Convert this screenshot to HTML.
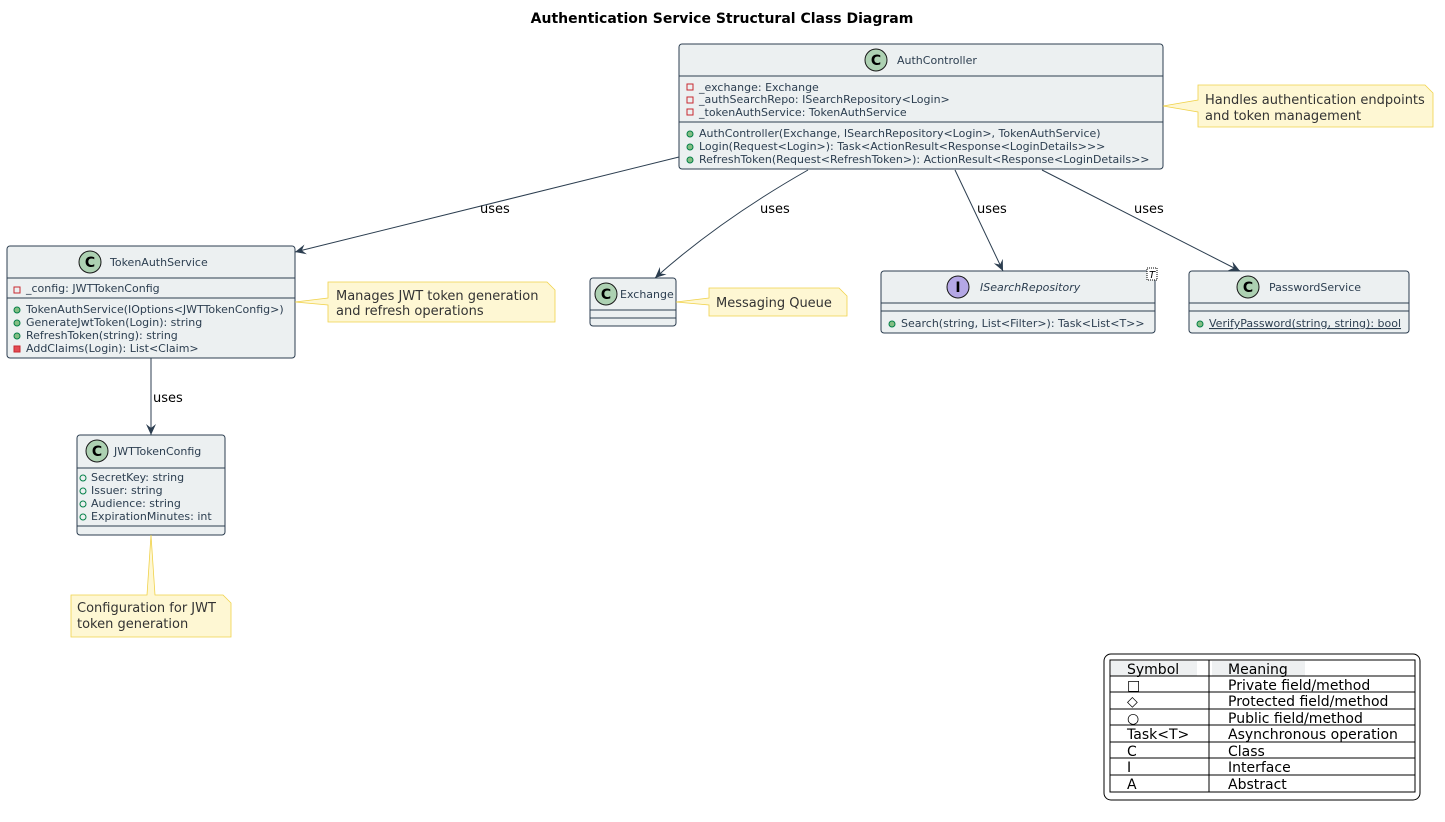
<!DOCTYPE html>
<html><head><meta charset="utf-8"><style>
body{margin:0;background:#fff}
svg text{font-family:"DejaVu Sans","Liberation Sans",sans-serif}
.cls{fill:#ECF0F1;stroke:#2C3E50;stroke-width:1}
.t{font-size:11px;fill:#2C3E50}
.note{fill:#FEF7D3;stroke:#F0D24B;stroke-width:0.8}
.nt{font-size:13px;fill:#333}
.e{stroke:#2C3E50;stroke-width:1;fill:none}
.lb{font-size:13px;fill:#000}
.pv{fill:none;stroke:#C82930}
.pub{fill:#84BE84;stroke:#038048}
</style></head><body>
<svg width="1445" height="817" xmlns="http://www.w3.org/2000/svg">
<defs>
<marker id="a" viewBox="0 0 12 12" refX="11" refY="6" markerWidth="12" markerHeight="12" orient="auto" markerUnits="userSpaceOnUse"><path d="M0,1 L11,6 L0,11 L4,6 Z" fill="#2C3E50"/></marker>
</defs>
<text x="722" y="23" text-anchor="middle" font-size="14" font-weight="bold">Authentication Service Structural Class Diagram</text>

<!-- AuthController -->
<rect class="cls" x="679" y="44" width="484" height="125" rx="3"/>
<line class="e" x1="679" y1="76" x2="1163" y2="76"/><line class="e" x1="679" y1="122" x2="1163" y2="122"/>
<circle cx="876" cy="60" r="11" fill="#ADD1B2" stroke="#181818"/><text x="876" y="65" text-anchor="middle" font-size="14" font-weight="bold">C</text>
<text class="t" x="897" y="64">AuthController</text>
<rect class="pv" x="687" y="84" width="6" height="6"/><text class="t" x="699" y="91">_exchange: Exchange</text>
<rect class="pv" x="687" y="97" width="6" height="6"/><text class="t" x="699" y="103">_authSearchRepo: ISearchRepository&lt;Login&gt;</text>
<rect class="pv" x="687" y="109" width="6" height="6"/><text class="t" x="699" y="116">_tokenAuthService: TokenAuthService</text>
<circle class="pub" cx="690" cy="134" r="3"/><text class="t" x="699" y="137">AuthController(Exchange, ISearchRepository&lt;Login&gt;, TokenAuthService)</text>
<circle class="pub" cx="690" cy="147" r="3"/><text class="t" x="699" y="150">Login(Request&lt;Login&gt;): Task&lt;ActionResult&lt;Response&lt;LoginDetails&gt;&gt;&gt;</text>
<circle class="pub" cx="690" cy="160" r="3"/><text class="t" x="699" y="163">RefreshToken(Request&lt;RefreshToken&gt;): ActionResult&lt;Response&lt;LoginDetails&gt;&gt;</text>

<path class="note" d="M1198,85 H1425 L1433,93 V127 H1198 V112 L1163,106 L1198,100 Z"/>
<text class="nt" x="1205" y="104">Handles authentication endpoints</text><text class="nt" x="1205" y="120">and token management</text>

<!-- TokenAuthService -->
<rect class="cls" x="7" y="246" width="288" height="112" rx="3"/>
<line class="e" x1="7" y1="278" x2="295" y2="278"/><line class="e" x1="7" y1="298" x2="295" y2="298"/>
<circle cx="90" cy="262" r="11" fill="#ADD1B2" stroke="#181818"/><text x="90" y="267" text-anchor="middle" font-size="14" font-weight="bold">C</text>
<text class="t" x="110" y="266">TokenAuthService</text>
<rect class="pv" x="14" y="287" width="6" height="6"/><text class="t" x="26" y="292">_config: JWTTokenConfig</text>
<circle class="pub" cx="17" cy="310" r="3"/><text class="t" x="26" y="313">TokenAuthService(IOptions&lt;JWTTokenConfig&gt;)</text>
<circle class="pub" cx="17" cy="323" r="3"/><text class="t" x="26" y="326">GenerateJwtToken(Login): string</text>
<circle class="pub" cx="17" cy="336" r="3"/><text class="t" x="26" y="339">RefreshToken(string): string</text>
<rect x="14" y="346" width="6" height="6" fill="#E34B53" stroke="#C82930"/><text class="t" x="26" y="352">AddClaims(Login): List&lt;Claim&gt;</text>

<path class="note" d="M328,282 H547 L555,290 V322 H328 V305 L295,302 L328,298 Z"/>
<text class="nt" x="336" y="300">Manages JWT token generation</text><text class="nt" x="336" y="315">and refresh operations</text>

<!-- JWTTokenConfig -->
<rect class="cls" x="77" y="435" width="148" height="100" rx="3"/>
<line class="e" x1="77" y1="468" x2="225" y2="468"/><line class="e" x1="77" y1="526" x2="225" y2="526"/>
<circle cx="97" cy="451" r="11" fill="#ADD1B2" stroke="#181818"/><text x="97" y="456" text-anchor="middle" font-size="14" font-weight="bold">C</text>
<text class="t" x="114" y="455">JWTTokenConfig</text>
<circle cx="83" cy="478" r="3" fill="none" stroke="#038048"/><text class="t" x="91" y="481">SecretKey: string</text>
<circle cx="83" cy="491" r="3" fill="none" stroke="#038048"/><text class="t" x="91" y="494">Issuer: string</text>
<circle cx="83" cy="504" r="3" fill="none" stroke="#038048"/><text class="t" x="91" y="507">Audience: string</text>
<circle cx="83" cy="517" r="3" fill="none" stroke="#038048"/><text class="t" x="91" y="520">ExpirationMinutes: int</text>

<path class="note" d="M71,595 H147 L151,535 L155,595 H223 L231,603 V637 H71 Z"/>
<text class="nt" x="77" y="612">Configuration for JWT</text><text class="nt" x="77" y="628">token generation</text>

<!-- Exchange -->
<rect class="cls" x="590" y="278" width="86" height="48" rx="3"/>
<line class="e" x1="590" y1="310" x2="676" y2="310"/><line class="e" x1="590" y1="318" x2="676" y2="318"/>
<circle cx="606" cy="294" r="11" fill="#ADD1B2" stroke="#181818"/><text x="606" y="299" text-anchor="middle" font-size="14" font-weight="bold">C</text>
<text class="t" x="620" y="298">Exchange</text>
<path class="note" d="M709,288 H839 L847,296 V316 H709 V305 L676,302 L709,298 Z"/>
<text class="nt" x="716" y="307">Messaging Queue</text>

<!-- ISearchRepository -->
<rect class="cls" x="881" y="271" width="274" height="62" rx="3"/>
<line class="e" x1="881" y1="303" x2="1155" y2="303"/><line class="e" x1="881" y1="311" x2="1155" y2="311"/>
<circle cx="958" cy="287" r="11" fill="#B4A7E5" stroke="#181818"/><text x="958" y="292" text-anchor="middle" font-size="14" font-weight="bold">I</text>
<text class="t" x="980" y="291" font-style="italic">ISearchRepository</text>
<rect x="1147" y="268" width="10" height="12" fill="#fff" stroke="#000" stroke-dasharray="1,1"/><text x="1149" y="278" font-size="10" font-style="italic">T</text>
<circle class="pub" cx="892" cy="324" r="3"/><text class="t" x="901" y="327">Search(string, List&lt;Filter&gt;): Task&lt;List&lt;T&gt;&gt;</text>

<!-- PasswordService -->
<rect class="cls" x="1189" y="271" width="220" height="62" rx="3"/>
<line class="e" x1="1189" y1="303" x2="1409" y2="303"/><line class="e" x1="1189" y1="311" x2="1409" y2="311"/>
<circle cx="1248" cy="287" r="11" fill="#ADD1B2" stroke="#181818"/><text x="1248" y="292" text-anchor="middle" font-size="14" font-weight="bold">C</text>
<text class="t" x="1269" y="291">PasswordService</text>
<circle class="pub" cx="1200" cy="324" r="3"/><text class="t" x="1209" y="327" text-decoration="underline">VerifyPassword(string, string): bool</text>

<!-- edges -->
<line class="e" x1="679" y1="157" x2="295" y2="252" marker-end="url(#a)"/><text class="lb" x="480" y="213">uses</text>
<path class="e" d="M808,170 Q720,220 655,278" marker-end="url(#a)"/><text class="lb" x="760" y="213">uses</text>
<line class="e" x1="955" y1="170" x2="1003" y2="271" marker-end="url(#a)"/><text class="lb" x="977" y="213">uses</text>
<line class="e" x1="1042" y1="170" x2="1240" y2="271" marker-end="url(#a)"/><text class="lb" x="1134" y="213">uses</text>
<line class="e" x1="151" y1="358" x2="151" y2="435" marker-end="url(#a)"/><text class="lb" x="153" y="402">uses</text>

<!-- legend -->
<rect x="1104" y="654" width="316" height="146" rx="7" fill="#fff" stroke="#000"/>
<rect x="1111" y="661" width="86" height="15" fill="#EEF0F1"/><rect x="1212" y="661" width="93" height="15" fill="#EEF0F1"/>
<g stroke="#000" fill="none">
<rect x="1110" y="660" width="305" height="132"/>
<line x1="1209" y1="660" x2="1209" y2="792"/>
<line x1="1110" y1="676" x2="1415" y2="676"/><line x1="1110" y1="692" x2="1415" y2="692"/><line x1="1110" y1="709" x2="1415" y2="709"/><line x1="1110" y1="725" x2="1415" y2="725"/><line x1="1110" y1="742" x2="1415" y2="742"/><line x1="1110" y1="758" x2="1415" y2="758"/><line x1="1110" y1="775" x2="1415" y2="775"/>
</g>
<g font-size="14" fill="#000">
<text x="1127" y="674">Symbol</text><text x="1228" y="674">Meaning</text>
<text x="1127" y="690">□</text><text x="1228" y="690">Private field/method</text>
<text x="1127" y="706">◇</text><text x="1228" y="706">Protected field/method</text>
<text x="1127" y="723">○</text><text x="1228" y="723">Public field/method</text>
<text x="1127" y="739">Task&lt;T&gt;</text><text x="1228" y="739">Asynchronous operation</text>
<text x="1127" y="756">C</text><text x="1228" y="756">Class</text>
<text x="1127" y="772">I</text><text x="1228" y="772">Interface</text>
<text x="1127" y="789">A</text><text x="1228" y="789">Abstract</text>
</g>
</svg>
</body></html>
